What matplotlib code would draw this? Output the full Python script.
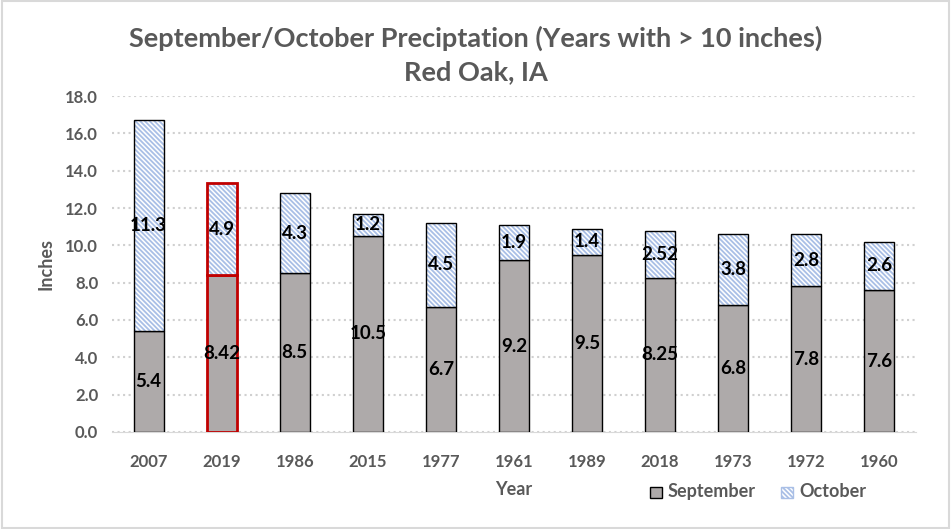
import matplotlib.pyplot as plt
import matplotlib as mpl
import numpy as np
from matplotlib.patches import Patch

years = ['2007', '2019', '1986', '2015', '1977', '1961', '1989', '2018', '1973', '1972', '1960']
september = [5.4, 8.42, 8.5, 10.5, 6.7, 9.2, 9.5, 8.25, 6.8, 7.8, 7.6]
october = [11.3, 4.9, 4.3, 1.2, 4.5, 1.9, 1.4, 2.52, 3.8, 2.8, 2.6]
sep_labels = ['5.4', '8.42', '8.5', '10.5', '6.7', '9.2', '9.5', '8.25', '6.8', '7.8', '7.6']
oct_labels = ['11.3', '4.9', '4.3', '1.2', '4.5', '1.9', '1.4', '2.52', '3.8', '2.8', '2.6']

plt.rcParams['font.family'] = ['Lato', 'DejaVu Sans']
mpl.rcParams['hatch.color'] = '#a9bfe6'
mpl.rcParams['hatch.linewidth'] = 1.3

text_gray = '#595959'
hatch = '\\' * 7

fig = plt.figure(figsize=(9.51, 5.29), dpi=100)
ax = fig.add_axes([0.1178, 0.1834, 0.8452, 0.6351])

x = np.arange(len(years))
width = 0.41

edge_cols = ['#c00000' if y == '2019' else 'black' for y in years]
edge_w = [2.0 if y == '2019' else 1.0 for y in years]

ax.bar(x, september, width, color='#aeaaaa', edgecolor=edge_cols,
       linewidth=edge_w, label='September', zorder=3)
oct_bars = ax.bar(x, october, width, bottom=september, color='white', hatch=hatch,
                  edgecolor='#a9bfe6', linewidth=0, label='October', zorder=3)
# outlines drawn on top, hatch keeps the blue colour
for i in range(len(years)):
    ax.bar(x[i], october[i], width, bottom=september[i], fill=False,
           edgecolor=edge_cols[i], linewidth=edge_w[i], zorder=4)

for i in range(len(years)):
    ax.text(x[i], september[i] / 2, sep_labels[i], ha='center', va='center',
            fontsize=13.5, fontweight='bold', color='black', zorder=5)
    ax.text(x[i], september[i] + october[i] / 2, oct_labels[i], ha='center', va='center',
            fontsize=13.5, fontweight='bold', color='black', zorder=5)

ax.set_xlim(-0.5, len(years) - 0.5)
ax.set_ylim(0, 18)
ax.set_yticks(np.arange(0, 18.1, 2))
ax.set_yticklabels([f'{v:.1f}' for v in np.arange(0, 18.1, 2)])
ax.set_xticks(x)
ax.set_xticklabels(years)
ax.tick_params(axis='y', length=0, labelsize=12, colors=text_gray, pad=10)
ax.tick_params(axis='x', length=0, labelsize=12, colors=text_gray, pad=16)
for lbl in ax.get_xticklabels() + ax.get_yticklabels():
    lbl.set_fontweight('bold')

ax.grid(axis='y', color='#d0d0d0', linestyle=':', linewidth=1.5, zorder=0)
for s in ['top', 'right', 'left']:
    ax.spines[s].set_visible(False)
ax.spines['bottom'].set_color('#d9d9d9')

ax.set_ylabel('Inches', fontsize=13, fontweight='bold', color=text_gray, labelpad=8)
ax.set_xlabel('Year', fontsize=13, fontweight='bold', color=text_gray, labelpad=8)

fig.text(0.5, 0.928, 'September/October Preciptation (Years with > 10 inches)', ha='center', va='center',
         fontsize=19.5, fontweight='bold', color=text_gray)
fig.text(0.5, 0.864, 'Red Oak, IA', ha='center', va='center',
         fontsize=19.5, fontweight='bold', color=text_gray)

handles = [Patch(facecolor='#aeaaaa', edgecolor='black', label='September'),
           Patch(facecolor='white', edgecolor='#a9bfe6', hatch=hatch, label='October')]
leg = fig.legend(handles=handles, loc='center', bbox_to_anchor=(0.797, 0.07), ncol=2, frameon=False,
                 handlelength=0.9, handleheight=0.9, columnspacing=1.8, handletextpad=0.4)
for t in leg.get_texts():
    t.set_fontsize(13)
    t.set_fontweight('bold')
    t.set_color(text_gray)

fig.patches.append(plt.Rectangle((0.002, 0.002), 0.996, 0.996, transform=fig.transFigure,
                                 fill=False, edgecolor='#d9d9d9', linewidth=1.5))

plt.savefig('out.png', dpi=100)
plt.close()
